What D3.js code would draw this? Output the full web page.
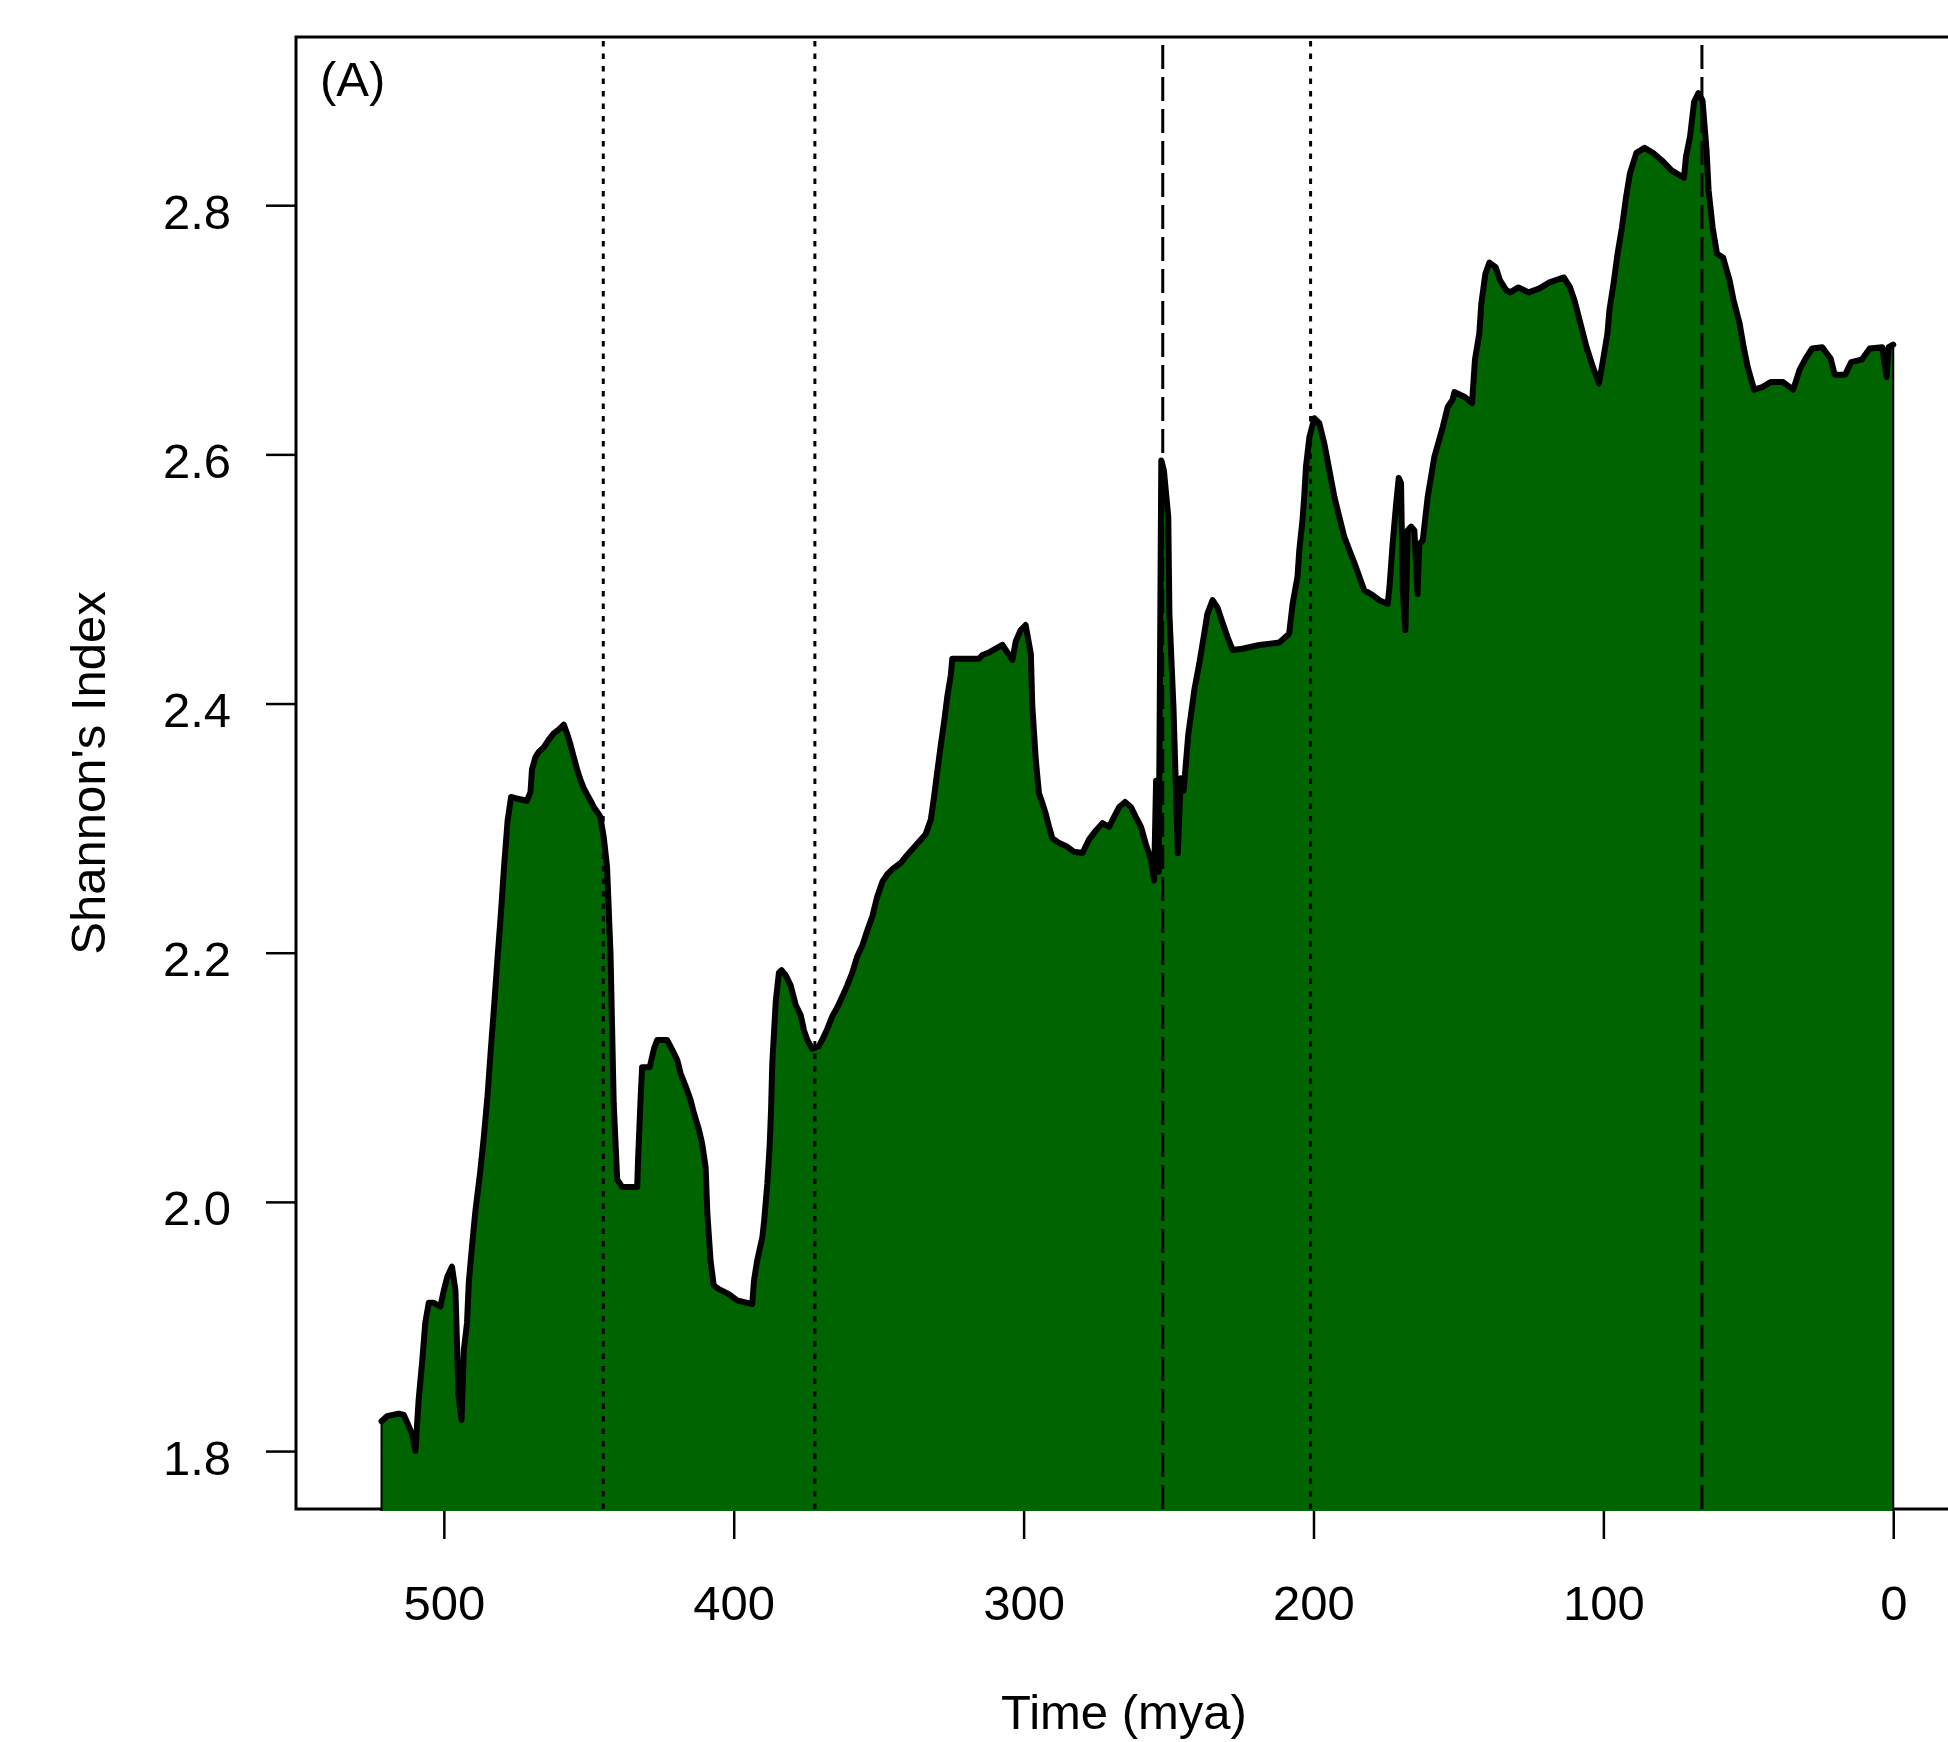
<!DOCTYPE html>
<html lang="en">
<head>
    <meta charset="UTF-8">
    <title>Shannon's Index through time</title>
    <script src="https://cdnjs.cloudflare.com/ajax/libs/d3/7.8.5/d3.min.js"></script>
    <style>
        body { margin: 0; background: #fff; }
        svg { display: block; }
        text { font-family: "Liberation Sans", Arial, sans-serif; fill: #000; }
    </style>
</head>
<body>
    <div id="chart"></div>

    <script>
        // Time before present (mya) and Shannon's index
        const timeMya = [
            521.5, 519.6, 515.6, 513.8, 512.1, 511.0, 509.8, 508.7, 507.5, 506.4,
            505.2, 503.5, 501.2, 500.0, 498.8, 497.2, 496.0, 495.4, 494.9, 493.9,
            493.1, 492.0, 491.4, 490.3, 489.1, 487.5, 486.3, 484.9, 483.8, 482.6,
            481.5, 480.3, 479.2, 478.0, 476.8, 475.3, 471.3, 470.1, 469.6, 468.4,
            467.3, 465.5, 463.8, 462.1, 460.4, 458.6, 457.5, 456.3, 455.2, 454.0,
            452.9, 451.7, 450.6, 449.4, 448.3, 447.1, 446.0, 444.8, 443.7, 442.5,
            441.4, 440.2, 438.5, 433.3, 433.0, 432.1, 431.6, 429.0, 427.5, 426.4,
            423.0, 421.2, 419.5, 418.3, 416.6, 414.9, 413.7, 412.0, 410.9, 409.7,
            409.1, 408.0, 406.9, 405.1, 401.7, 398.8, 393.6, 393.0, 391.9, 390.1,
            389.5, 388.4, 387.6, 387.1, 386.7, 385.5, 384.4, 383.5, 382.1, 380.4,
            378.6, 376.9, 375.8, 374.6, 372.9, 370.6, 369.5, 367.7, 366.0, 364.3,
            362.5, 360.8, 359.1, 357.4, 355.6, 353.9, 352.2, 350.5, 348.7, 347.0,
            345.3, 342.4, 340.7, 338.4, 336.1, 333.8, 332.0, 330.9, 329.8, 328.6,
            327.5, 326.3, 325.1, 324.6, 315.4, 314.2, 311.9, 309.6, 307.3, 305.6,
            303.9, 302.7, 301.0, 299.3, 297.5, 297.0, 295.8, 294.7, 293.5, 292.3,
            291.2, 290.1, 287.7, 284.9, 282.6, 279.7, 277.4, 275.1, 272.8, 270.5,
            268.8, 267.0, 265.0, 263.0, 261.3, 259.5, 257.8, 256.1, 255.0, 254.3,
            253.4, 252.5, 251.6, 250.1, 249.7, 248.3, 246.8, 245.8, 244.8, 243.2,
            241.1, 239.4, 237.7, 236.6, 234.8, 233.1, 231.4, 229.6, 227.9, 224.5,
            218.7, 211.8, 208.4, 207.2, 205.5, 204.9, 203.8, 203.2, 202.6, 201.4,
            199.7, 198.0, 196.3, 194.5, 192.8, 191.1, 189.4, 187.6, 185.9, 184.2,
            182.5, 179.6, 177.3, 174.4, 173.8, 172.7, 171.5, 170.6, 169.8, 169.2,
            168.3, 167.5, 166.3, 165.2, 164.1, 163.5, 162.3, 160.6, 158.3, 155.4,
            153.7, 152.0, 151.4, 147.8, 145.3, 144.3, 142.8, 142.1, 140.7, 139.3,
            137.1, 135.7, 133.6, 132.2, 129.3, 125.8, 122.2, 118.6, 113.6, 111.5,
            110.0, 107.9, 105.8, 103.6, 101.5, 100.1, 98.6, 97.9, 96.5, 95.1,
            93.6, 92.2, 90.8, 88.6, 85.8, 82.9, 79.4, 76.5, 72.2, 71.5,
            70.1, 68.7, 67.2, 65.8, 64.4, 63.7, 62.3, 60.8, 58.7, 56.5,
            55.1, 53.0, 51.6, 50.2, 48.0, 45.2, 42.3, 38.0, 34.5, 32.3,
            30.2, 28.0, 24.5, 21.6, 20.2, 16.6, 14.5, 10.9, 8.1, 3.8,
            2.3, 1.6, 0.0
        ];
        const shannon = [
            1.824, 1.828, 1.830, 1.829, 1.820, 1.814, 1.800, 1.841, 1.871, 1.903,
            1.919, 1.919, 1.916, 1.929, 1.940, 1.948, 1.929, 1.881, 1.844, 1.825,
            1.881, 1.903, 1.935, 1.964, 1.993, 2.023, 2.050, 2.086, 2.122, 2.159,
            2.195, 2.232, 2.270, 2.306, 2.325, 2.324, 2.322, 2.329, 2.347, 2.357,
            2.361, 2.365, 2.371, 2.376, 2.379, 2.383, 2.376, 2.367, 2.357, 2.347,
            2.339, 2.332, 2.327, 2.322, 2.317, 2.313, 2.309, 2.292, 2.269, 2.199,
            2.079, 2.018, 2.012, 2.012, 2.034, 2.084, 2.108, 2.108, 2.123, 2.130,
            2.130, 2.122, 2.114, 2.103, 2.093, 2.082, 2.071, 2.058, 2.047, 2.028,
            1.991, 1.953, 1.933, 1.930, 1.926, 1.921, 1.918, 1.937, 1.953, 1.972,
            1.985, 2.015, 2.045, 2.075, 2.111, 2.161, 2.184, 2.186, 2.182, 2.174,
            2.158, 2.150, 2.138, 2.130, 2.123, 2.125, 2.130, 2.139, 2.149, 2.156,
            2.165, 2.174, 2.184, 2.197, 2.206, 2.218, 2.229, 2.245, 2.257, 2.263,
            2.267, 2.272, 2.277, 2.283, 2.289, 2.295, 2.307, 2.325, 2.345, 2.366,
            2.384, 2.406, 2.423, 2.436, 2.436, 2.439, 2.441, 2.444, 2.447, 2.441,
            2.435, 2.450, 2.459, 2.463, 2.440, 2.398, 2.355, 2.328, 2.320, 2.311,
            2.301, 2.292, 2.288, 2.285, 2.281, 2.280, 2.291, 2.298, 2.304, 2.301,
            2.309, 2.317, 2.321, 2.317, 2.309, 2.301, 2.287, 2.275, 2.258, 2.338,
            2.265, 2.595, 2.587, 2.550, 2.472, 2.397, 2.280, 2.340, 2.330, 2.375,
            2.411, 2.432, 2.456, 2.472, 2.483, 2.477, 2.465, 2.453, 2.443, 2.444,
            2.447, 2.449, 2.456, 2.480, 2.502, 2.523, 2.547, 2.566, 2.590, 2.614,
            2.629, 2.625, 2.609, 2.587, 2.566, 2.550, 2.534, 2.523, 2.513, 2.502,
            2.491, 2.487, 2.483, 2.480, 2.493, 2.528, 2.560, 2.581, 2.577, 2.491,
            2.459, 2.539, 2.542, 2.539, 2.488, 2.528, 2.531, 2.566, 2.598, 2.622,
            2.638, 2.644, 2.650, 2.646, 2.641, 2.676, 2.697, 2.721, 2.745, 2.754,
            2.750, 2.740, 2.732, 2.730, 2.734, 2.730, 2.733, 2.738, 2.742, 2.734,
            2.724, 2.705, 2.686, 2.670, 2.657, 2.676, 2.697, 2.716, 2.737, 2.761,
            2.782, 2.806, 2.826, 2.842, 2.846, 2.842, 2.835, 2.828, 2.822, 2.839,
            2.855, 2.883, 2.890, 2.884, 2.844, 2.812, 2.782, 2.761, 2.758, 2.740,
            2.724, 2.705, 2.686, 2.670, 2.652, 2.654, 2.658, 2.658, 2.652, 2.668,
            2.677, 2.685, 2.686, 2.677, 2.664, 2.664, 2.674, 2.676, 2.685, 2.686,
            2.662, 2.686, 2.688
        ];

        const xTicks = [500, 400, 300, 200, 100, 0];
        const yTicks = [1.8, 2.0, 2.2, 2.4, 2.6, 2.8];

        // mass extinction boundaries (mya); the two biggest get long dashes
        const extinctions = [445, 372, 252, 201, 66];
        const biggestEvents = [252, 66];

        const width = 1948;
        const height = 1742;
        const plot = { left: 296, top: 37, right: 1955, bottom: 1509 };

        const series = timeMya.map((t, i) => ({ t: t, v: shannon[i] }));

        const svg = d3.select("#chart")
            .append("svg")
            .attr("width", width)
            .attr("height", height);

        const x = d3.scaleLinear()
            .domain([551, -21.3])
            .range([plot.left, plot.right]);

        const y = d3.scaleLinear()
            .domain([1.7535, 2.935])
            .range([plot.bottom, plot.top]);

        // plot frame
        svg.append("rect")
            .attr("x", plot.left)
            .attr("y", plot.top)
            .attr("width", plot.right - plot.left)
            .attr("height", plot.bottom - plot.top)
            .attr("fill", "none")
            .attr("stroke", "#000")
            .attr("stroke-width", 3);

        svg.append("clipPath")
            .attr("id", "clip")
            .append("rect")
            .attr("x", plot.left)
            .attr("y", plot.top)
            .attr("width", plot.right - plot.left)
            .attr("height", plot.bottom - plot.top + 2);

        const body = svg.append("g").attr("clip-path", "url(#clip)");

        const area = d3.area()
            .x(d => x(d.t))
            .y0(plot.bottom + 20)
            .y1(d => y(d.v));

        body.append("path")
            .datum(series)
            .attr("d", area)
            .attr("fill", "#006400")
            .attr("stroke", "#000")
            .attr("stroke-width", 2);

        const line = d3.line()
            .x(d => x(d.t))
            .y(d => y(d.v));

        body.append("path")
            .datum(series)
            .attr("d", line)
            .attr("fill", "none")
            .attr("stroke", "#000")
            .attr("stroke-width", 6)
            .attr("stroke-linejoin", "round")
            .attr("stroke-linecap", "round");

        // extinction markers, drawn bottom to top like abline
        body.selectAll(".event")
            .data(extinctions)
            .enter().append("path")
            .attr("class", "event")
            .attr("d", d => `M${x(d)},${plot.bottom}V${plot.top}`)
            .attr("stroke", "#000")
            .attr("stroke-width", 3)
            .attr("stroke-dasharray", d => biggestEvents.includes(d) ? "24,8" : "5.5,7");

        // x axis
        const xAxis = svg.append("g")
            .attr("transform", `translate(0,${plot.bottom + 2})`)
            .style("color", "#000")
            .call(d3.axisBottom(x).tickValues(xTicks).tickSize(28).tickFormat(d3.format("d")));
        xAxis.select(".domain").remove();
        xAxis.selectAll(".tick line").attr("stroke-width", 2.5);
        xAxis.selectAll(".tick text")
            .attr("y", 109)
            .attr("dy", null)
            .attr("font-size", 49)
            .style("font-family", "'Liberation Sans', Arial, sans-serif");

        // y axis
        const yAxis = svg.append("g")
            .attr("transform", `translate(${plot.left},0)`)
            .style("color", "#000")
            .call(d3.axisLeft(y).tickValues(yTicks).tickSize(30).tickFormat(d3.format(".1f")));
        yAxis.select(".domain").remove();
        yAxis.selectAll(".tick line").attr("stroke-width", 2.5);
        yAxis.selectAll(".tick text")
            .attr("x", -65)
            .attr("dy", 23)
            .attr("font-size", 49)
            .style("font-family", "'Liberation Sans', Arial, sans-serif");

        // labels
        svg.append("text")
            .attr("x", 320)
            .attr("y", 96)
            .attr("font-size", 49)
            .text("(A)");

        svg.append("text")
            .attr("transform", "translate(105,773) rotate(-90)")
            .attr("text-anchor", "middle")
            .attr("font-size", 49)
            .text("Shannon's Index");

        // kept just inside the bottom edge so the descender is not lost
        svg.append("text")
            .attr("x", 1124)
            .attr("y", 1729)
            .attr("text-anchor", "middle")
            .attr("font-size", 49)
            .text("Time (mya)");
    </script>
</body>
</html>
